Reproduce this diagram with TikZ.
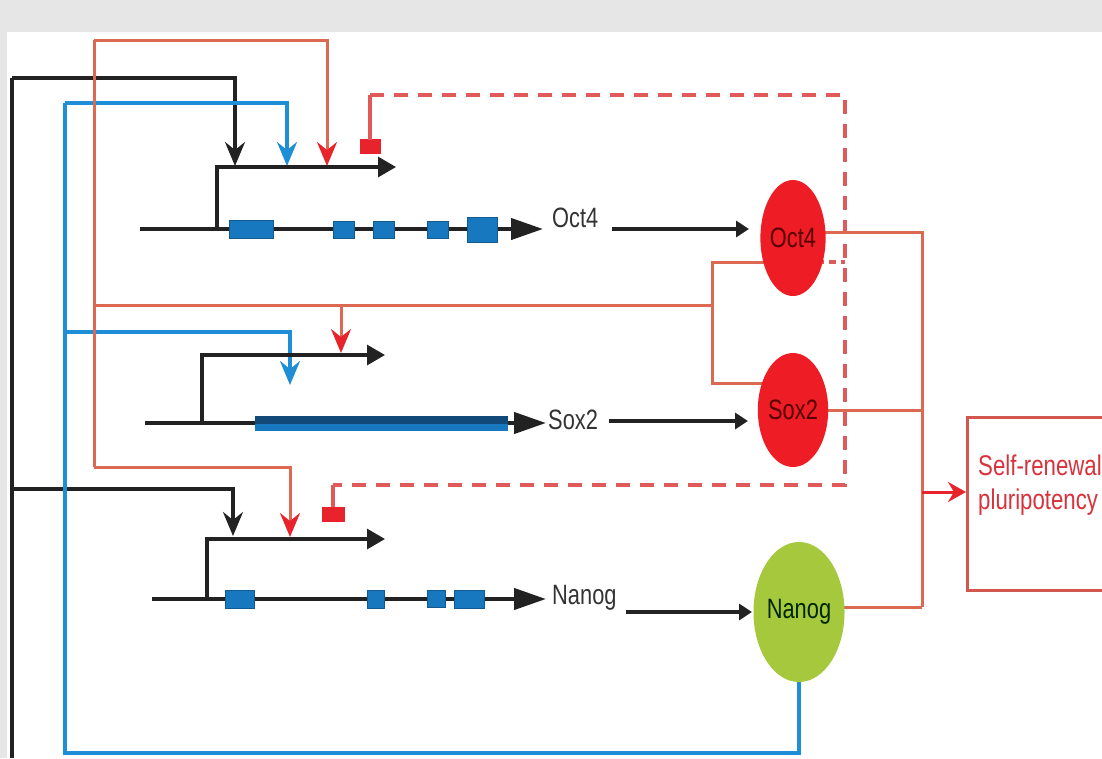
\documentclass[tikz,border=0pt]{standalone}
\usepackage{fontspec}
\newfontfamily\labfont[FakeStretch=0.78]{Liberation Sans}
\usetikzlibrary{arrows.meta,shapes.geometric}
\definecolor{bgc}{HTML}{E6E6E6}
\definecolor{lnred}{HTML}{DC6A52}
\definecolor{arred}{HTML}{E8232B}
\definecolor{dshred}{HTML}{E05A5A}
\definecolor{lnblue}{HTML}{1E8FD6}
\definecolor{exblue}{HTML}{1777BF}
\definecolor{exdark}{HTML}{114A78}
\definecolor{blk}{HTML}{222222}
\definecolor{ovred}{HTML}{EE1C25}
\definecolor{ovgreen}{HTML}{A6C83C}
\definecolor{txred}{HTML}{D8323C}
\definecolor{boxred}{HTML}{D2564E}
\tikzset{
  regblk/.style={draw=blk,line width=3.2pt,-{Stealth[length=24pt,width=20pt,inset=8pt,color=blk]}},
  regblu/.style={draw=lnblue,line width=3.2pt,-{Stealth[length=24pt,width=20pt,inset=8pt,color=lnblue]}},
  regred/.style={draw=lnred,line width=3pt,-{Stealth[length=24pt,width=20pt,inset=8pt,color=arred]}},
  blkline/.style={draw=blk,line width=3.2pt},
  bluline/.style={draw=lnblue,line width=3.2pt},
  redline/.style={draw=lnred,line width=3pt},
  dshline/.style={draw=dshred,line width=3.4pt,dash pattern=on 14pt off 10pt},
  geneline/.style={draw=blk,line width=4.2pt,-{Triangle[length=32pt,width=21pt]}},
  promline/.style={draw=blk,line width=3.2pt,-{Triangle[length=18pt,width=20pt]}},
  prodarrow/.style={draw=blk,line width=3.4pt,-{Triangle[length=13pt,width=16pt]}},
  exon/.style={fill=exblue,draw=exblue!75!black,line width=0.8pt},
  lab/.style={font=\labfont\fontsize{28}{30}\selectfont,text=black!80,inner sep=0pt},
  oval/.style={ellipse,inner sep=0pt,font=\labfont\fontsize{28}{30}\selectfont},
  rep/.style={fill=arred,draw=none}
}
\begin{document}
\begin{tikzpicture}[x=1pt,y=-1pt]
\useasboundingbox (0,0) rectangle (1102,758);
\clip (0,0) rectangle (1102,758);
\fill[bgc] (0,0) rectangle (1102,758);
\fill[white] (7,32) rectangle (1102,758);

% key coordinates
\coordinate (O4c) at (793,238);
\coordinate (S2c) at (793,410);
\coordinate (NGc) at (799,612);
\coordinate (hub) at (922,492);

% ---------------- regulatory inputs ----------------
% black
\coordinate (bk0) at (12,758);
\coordinate (bk1) at (12,78);
\coordinate (bkO) at (235,166);
\coordinate (bkN) at (233,536);
\draw[blkline] (bk0) -- (bk1);
\draw[regblk] (bk1) -| (bkO);
\draw[regblk] (12,489) -| (bkN);

% blue (Nanog output)
\coordinate (bl0) at (65,753);
\coordinate (bl1) at (65,103);
\coordinate (blO) at (287,166);
\coordinate (blS) at (290,385);
\draw[bluline] (NGc) -- (NGc |- 0,753) -- (bl0) -- (bl1);
\draw[regblu] (bl1) -| (blO);
\draw[regblu] (65,332) -| (blS);

% red (Oct4/Sox2 complex output)
\coordinate (rd0) at (94,467);
\coordinate (rd1) at (94,40);
\coordinate (rdO) at (327,166);
\coordinate (rdS) at (341,353);
\coordinate (rdN) at (290,537);
\coordinate (brk) at (712,305);
\draw[redline] (rd0) -- (rd1);
\draw[regred] (rd1) -| (rdO);
\draw[redline] (94,305) -- (brk);
\draw[regred] (341,305) -- (rdS);
\draw[regred] (rd0) -| (rdN);
\draw[redline] (O4c |- 0,262) -| (712,383) -- (S2c |- 0,383);

% dashed repression loop
\fill[rep] (360,139) rectangle (381,154);
\fill[rep] (322,507) rectangle (345,522);
\draw[draw=dshred,line width=3.4pt] (370,140) -- (370,95);
\draw[dshline] (370,95) -- (845,95) -- (845,485) -- (333,485);
\draw[draw=dshred,line width=3.4pt] (333,485) -- (333,507);
\draw[dshline,dash pattern=on 7pt off 5pt] (O4c |- 0,262) -- (845,262);

% ---------------- genes ----------------
% Oct4
\draw[promline] (217,229) -- (217,167) -- (396,167);
\draw[geneline] (140,229) -- (543,229);
\draw[exon] (229,220) rectangle (273,238);
\draw[exon] (333,221) rectangle (354,238);
\draw[exon] (373,221) rectangle (394,238);
\draw[exon] (427,221) rectangle (448,238);
\draw[exon] (467,217) rectangle (497,242);

% Sox2
\draw[promline] (202,423) -- (202,355) -- (385,355);
\draw[geneline] (145,423) -- (546,423);
\fill[exdark] (255,416) rectangle (508,424);
\fill[exblue] (255,424) rectangle (508,431);

% Nanog
\draw[promline] (207,599) -- (207,539) -- (385,539);
\draw[geneline] (152,599) -- (546,599);
\draw[exon] (225,590) rectangle (254,608);
\draw[exon] (367,590) rectangle (384,608);
\draw[exon] (427,590) rectangle (445,607);
\draw[exon] (454,590) rectangle (484,608);

% gene labels
\node[lab,anchor=west] (g1) at (552,218) {Oct4};
\node[lab,anchor=west] (g2) at (548,420) {Sox2};
\node[lab,anchor=west] (g3) at (552,598) {Nanog};

% ---------------- outputs ----------------
\draw[redline] (O4c |- 0,232) -- (922,232) -- (922,607);
\draw[redline] (S2c) -- (922,410);
\draw[redline] (NGc |- 0,607) -- (922,607);
\draw[draw=arred,line width=3pt,-{Stealth[length=18pt,width=20pt,inset=6pt]}] (hub) -- (966,492);

% proteins
\node[oval,fill=ovred,minimum width=60pt,minimum height=116pt,text=red!35!black] (O4) at (O4c) {Oct4};
\node[oval,fill=ovred,minimum width=60pt,minimum height=114pt,text=red!35!black] (S2) at (S2c) {Sox2};
\node[oval,fill=ovgreen,minimum width=66pt,minimum height=140pt,text=green!15!black] (NG) at (NGc) {Nanog};

\draw[prodarrow] (612,229) -- (749,229);
\draw[prodarrow] (609,421) -- (748,421);
\draw[prodarrow] (626,612) -- (752,612);

% self-renewal box
\draw[draw=boxred,line width=3pt] (967,417) rectangle (1130,590);
\node[font=\labfont\fontsize{28.5}{30}\selectfont,text=txred,anchor=west,align=left,inner sep=0pt] (sr) at (978,485) {Self-renewal\\[4pt]pluripotency};
\end{tikzpicture}
\end{document}
